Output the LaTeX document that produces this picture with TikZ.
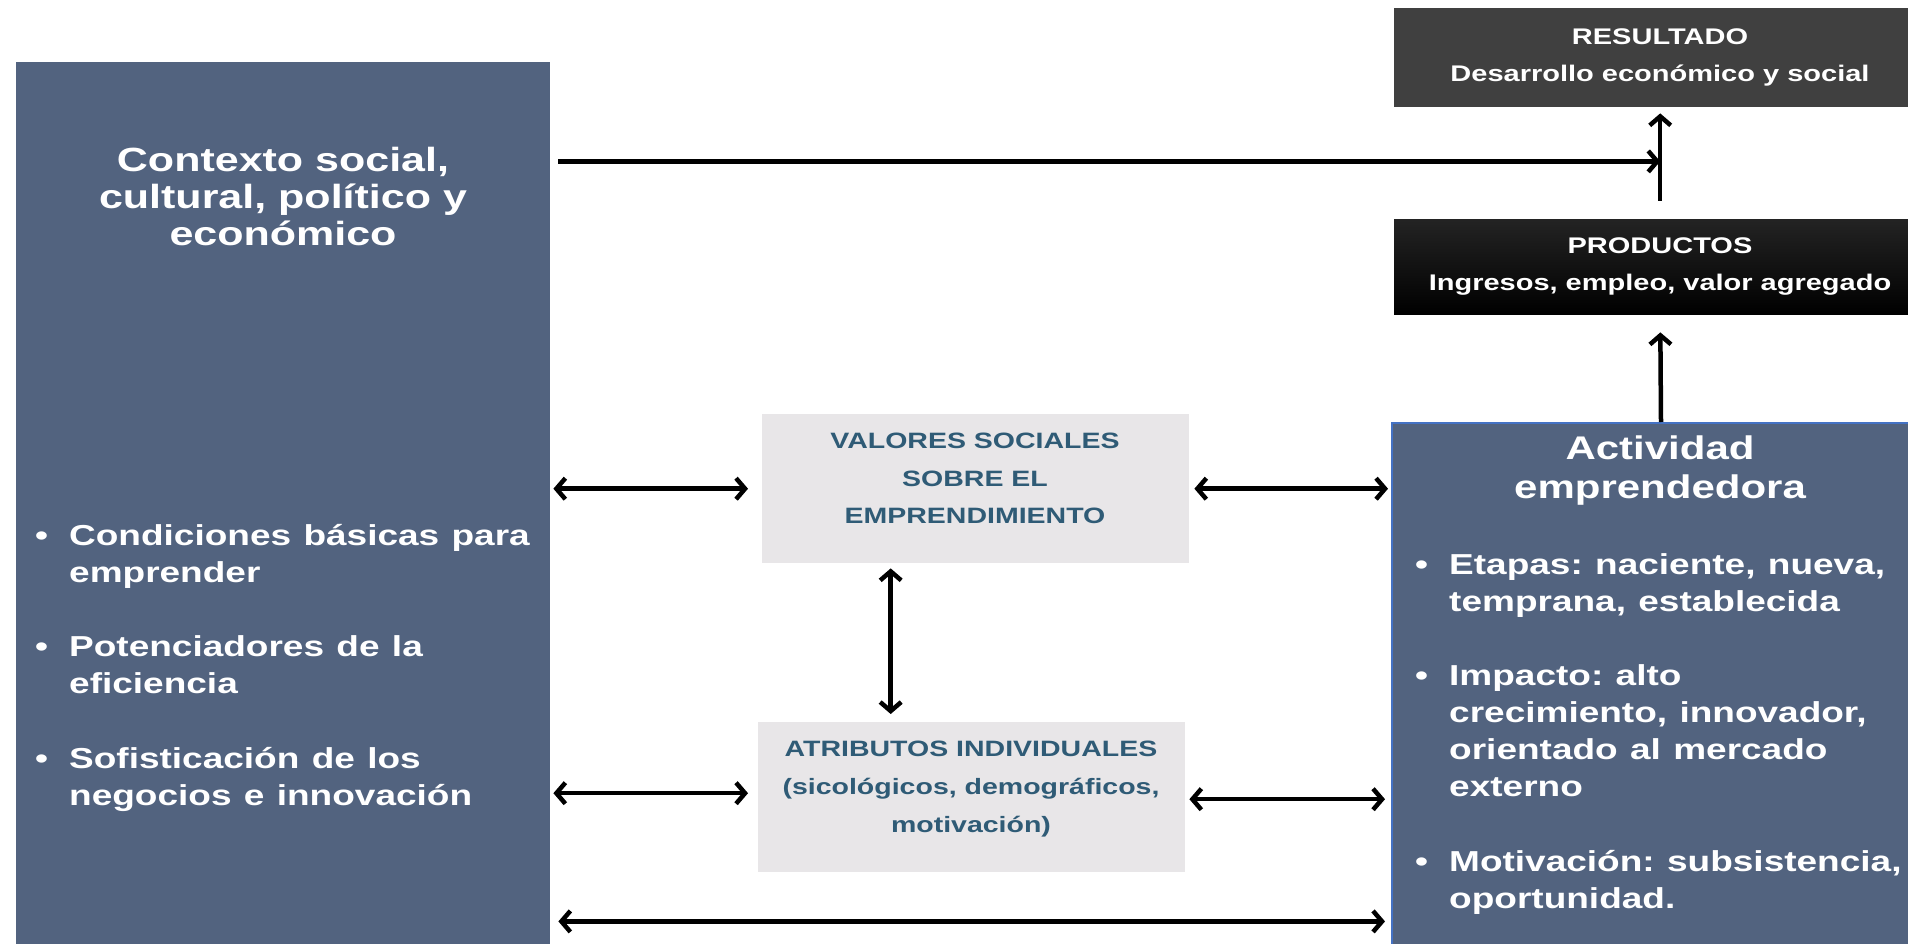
\documentclass[tikz,border=0pt]{standalone}
\usepackage{fontspec}
\setmainfont{Liberation Sans}
\usetikzlibrary{arrows.meta}
\frenchspacing

\definecolor{panelblue}{HTML}{52637F}
\definecolor{paneledge}{HTML}{4472C4}
\definecolor{darkbox}{HTML}{404040}
\definecolor{lightbox}{HTML}{E8E6E8}
\definecolor{tealtext}{HTML}{2F5B76}

% bullet item with hanging indent
\newcommand{\bitem}[1]{\par\hangindent=34pt\hangafter=1\noindent\makebox[34pt][l]{\textbullet}#1\par}

\tikzset{
  panel/.style={fill=panelblue, inner sep=0pt, anchor=north west},
  headbox/.style={fill=darkbox, inner sep=0pt, anchor=north west, minimum width=532pt, minimum height=99pt},
  graybox/.style={fill=lightbox, inner sep=0pt, anchor=north west, minimum width=427pt, minimum height=150pt},
  squash/.style={yscale=0.78, inner sep=0pt, text=white},
  dlink/.style={{Straight Barb[length=9pt,width=21pt]}-{Straight Barb[length=9pt,width=21pt]}, line width=4.5pt},
  link/.style={-{Straight Barb[length=9pt,width=21pt]}, line width=4.5pt}
}

\begin{document}
\begin{tikzpicture}[x=1pt, y=-1pt]
  \useasboundingbox (0,0) rectangle (1908,944);

  % boxes
  \node[panel, minimum width=534pt, minimum height=882pt] (contexto) at (16,62) {};
  \node[panel, draw=paneledge, line width=2pt, minimum width=538pt, minimum height=524pt] (actividad) at (1391,422) {};
  \node[headbox] (resultado) at (1394,8) {};
  \node[headbox, top color=darkbox!115, bottom color=black, minimum height=95pt] (productos) at (1394,219) {};
  \node[graybox, minimum height=149pt] (valores) at (762,414) {};
  \node[graybox] (atributos) at (758,722) {};

  % texts
  \node[squash, anchor=north, align=center, font={\fontsize{43}{47.4}\selectfont\bfseries}] (contexto-titulo) at (283,147)
    {Contexto social,\\cultural, político y\\económico};
  \node[squash, anchor=north west, align=left, text width=520pt, font={\fontsize{37}{47.4}\selectfont\bfseries}] (contexto-lista) at (35,508)
    {\bitem{Condiciones básicas para\newline emprender}\vspace{48.6pt}
     \bitem{Potenciadores de la\newline eficiencia}\vspace{48.6pt}
     \bitem{Sofisticación de los\newline negocios e innovación}};

  \node[squash, anchor=north, align=center, font={\fontsize{42}{50}\selectfont\bfseries}] (actividad-titulo) at (1660,436)
    {Actividad\\emprendedora};
  \node[squash, anchor=north west, align=left, text width=520pt, font={\fontsize{37}{47.4}\selectfont\bfseries}] (actividad-lista) at (1415,537)
    {\bitem{Etapas: naciente, nueva,\newline temprana, establecida}\vspace{48.6pt}
     \bitem{Impacto: alto\newline crecimiento, innovador,\newline orientado al mercado\newline externo}\vspace{48.6pt}
     \bitem{Motivación: subsistencia,\newline oportunidad.}};

  \node[squash, anchor=north, align=center, font={\fontsize{29}{47.4}\selectfont\bfseries}] (resultado-texto) at (1660,29)
    {RESULTADO\\Desarrollo económico y social};
  \node[squash, anchor=north, align=center, font={\fontsize{29}{47.4}\selectfont\bfseries}] (productos-texto) at (1660,238)
    {PRODUCTOS\\Ingresos, empleo, valor agregado};

  \node[squash, text=tealtext, anchor=north, align=center, font={\fontsize{28.5}{48}\selectfont\bfseries}] (valores-texto) at (975,433)
    {VALORES SOCIALES\\SOBRE EL\\EMPRENDIMIENTO};
  \node[squash, text=tealtext, anchor=north, align=center, font={\fontsize{28.5}{48.7}\selectfont\bfseries}] (atributos-texto) at (971,741)
    {ATRIBUTOS INDIVIDUALES\\(sicológicos, demográficos,\\motivación)};

  % connectors
  \coordinate (cruce) at ([yshift=-54pt]resultado.south);
  \draw[link, shorten <=8pt] (cruce -| contexto.east) -- (cruce);
  \draw[link, shorten <=18pt, shorten >=6pt] (productos.north) -- (resultado.south);
  \draw[link, shorten >=18pt] (actividad.north) -- (productos.south);

  \draw[dlink, shorten <=3pt, shorten >=14pt] (contexto.east |- valores.west) -- (valores.west);
  \draw[dlink, shorten <=5pt, shorten >=3pt] (valores.east) -- (actividad.west |- valores.east);
  \draw[dlink, shorten <=5pt, shorten >=8pt] ([xshift=-85pt]valores.south) -- ([xshift=-85pt]valores.south |- atributos.north);
  \draw[dlink, shorten <=3pt, shorten >=10pt] ([yshift=4pt]atributos.west -| contexto.east) -- ([yshift=4pt]atributos.west);
  \draw[dlink, shorten <=4pt, shorten >=6pt] ([yshift=-2pt]atributos.east) -- ([yshift=-2pt]atributos.east -| actividad.west);
  \draw[dlink, shorten <=8pt, shorten >=6pt] ([yshift=23pt]contexto.south east) -- ([yshift=23pt]contexto.south east -| actividad.west);
\end{tikzpicture}
\end{document}
